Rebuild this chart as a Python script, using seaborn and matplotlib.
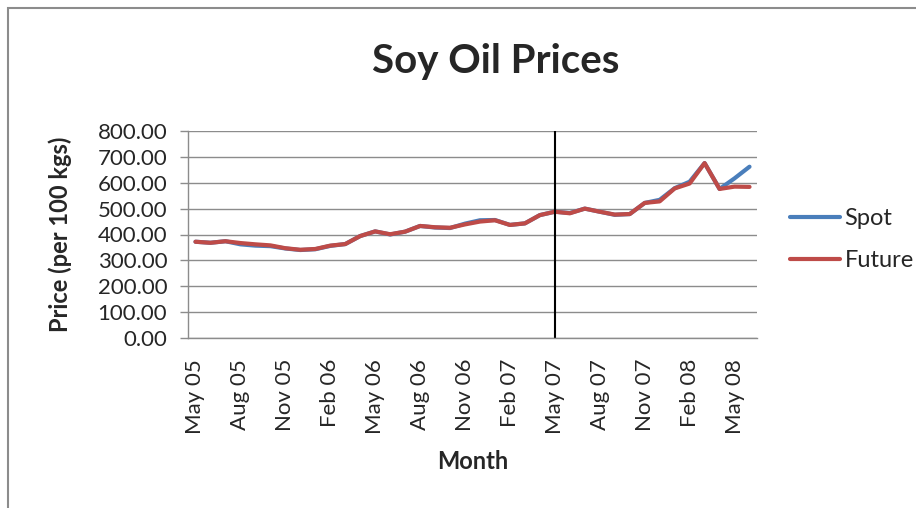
import matplotlib
matplotlib.use('Agg')
import matplotlib.pyplot as plt
from matplotlib.patches import Rectangle
from matplotlib.ticker import FixedLocator, FormatStrFormatter
import pandas as pd
import seaborn as sns

months = ['May 05', 'Jun 05', 'Jul 05', 'Aug 05', 'Sep 05', 'Oct 05', 'Nov 05', 'Dec 05',
          'Jan 06', 'Feb 06', 'Mar 06', 'Apr 06', 'May 06', 'Jun 06', 'Jul 06', 'Aug 06',
          'Sep 06', 'Oct 06', 'Nov 06', 'Dec 06', 'Jan 07', 'Feb 07', 'Mar 07', 'Apr 07',
          'May 07', 'Jun 07', 'Jul 07', 'Aug 07', 'Sep 07', 'Oct 07', 'Nov 07', 'Dec 07',
          'Jan 08', 'Feb 08', 'Mar 08', 'Apr 08', 'May 08', 'Jun 08']

spot = [372, 368, 374, 362, 357, 355, 346, 340, 343, 356, 363, 394, 412, 400, 411, 433,
        427, 425, 442, 455, 456, 437, 443, 475, 488, 483, 500, 488, 476, 479, 522, 534,
        579, 604, 676, 576, 617, 662]
future = [372, 368, 374, 367, 362, 358, 347, 341, 344, 357, 363, 394, 412, 401, 411, 433,
          428, 426, 439, 450, 455, 437, 443, 475, 488, 482, 500, 488, 477, 479, 522, 528,
          578, 597, 676, 576, 585, 584]

tick_labels = ['May 05', 'Aug 05', 'Nov 05', 'Feb 06', 'May 06', 'Aug 06', 'Nov 06',
               'Feb 07', 'May 07', 'Aug 07', 'Nov 07', 'Feb 08', 'May 08']

df = pd.DataFrame({'Month': months * 2,
                   'Price': spot + future,
                   'Series': ['Spot'] * len(months) + ['Future'] * len(months)})

sns.set_style('white')
plt.rcParams['font.family'] = ['Lato', 'DejaVu Sans']

fig = plt.figure(figsize=(9.16, 5.08), dpi=100)
ax = fig.add_axes([188 / 916, 1 - 338 / 508, (757 - 188) / 916, (338 - 131) / 508])

# outer chart frame (only left and top edges are inside the picture)
fig.patches.append(Rectangle((8 / 916, -0.1), 1.2, 1 - 8 / 508 + 0.1, transform=fig.transFigure,
                             fill=False, edgecolor='#8c8c8c', linewidth=1.5))

sns.lineplot(data=df, x='Month', y='Price', hue='Series', sort=False, ax=ax,
             palette={'Spot': '#4a7ebb', 'Future': '#be4b48'}, linewidth=3)

ax.set_ylim(0, 800)
ax.set_xlim(-0.5, len(months) - 0.5)
ax.set_yticks(range(0, 801, 100))
ax.yaxis.set_major_formatter(FormatStrFormatter('%.2f'))
ax.grid(axis='y', color='#8c8c8c', linewidth=1)
ax.set_axisbelow(True)

ax.axvline(months.index('May 07'), color='black', linewidth=1.5)

ax.set_xticks([months.index(m) for m in tick_labels])
ax.set_xticklabels(tick_labels, rotation=90)
ax.xaxis.set_minor_locator(FixedLocator([i - 0.5 for i in range(len(months) + 1)]))
ax.tick_params(axis='x', which='major', length=0, pad=15, labelsize=16)
ax.tick_params(axis='x', which='minor', length=5, color='#8c8c8c', width=1)
ax.tick_params(axis='y', which='major', length=6, color='#8c8c8c', width=1, labelsize=16,
               left=True, pad=9)

for s in ['top', 'right']:
    ax.spines[s].set_visible(False)
for s in ['left', 'bottom']:
    ax.spines[s].set_color('#8c8c8c')
    ax.spines[s].set_linewidth(1)

ax.set_xlabel('Month', fontsize=17, fontweight='bold', labelpad=12)
ax.set_ylabel('Price (per 100 kgs)', fontsize=17, fontweight='bold', labelpad=18)
fig.text(496 / 916, 1 - 62 / 508, 'Soy Oil Prices', fontsize=29, fontweight='bold',
         ha='center', va='center')

leg = ax.legend(loc='center left', bbox_to_anchor=(1.021, 0.476), frameon=False,
                fontsize=17, handlelength=2.1, labelspacing=0.9, handletextpad=0.2)
for line in leg.get_lines():
    line.set_linewidth(3)

fig.savefig('out.png', dpi=100)
